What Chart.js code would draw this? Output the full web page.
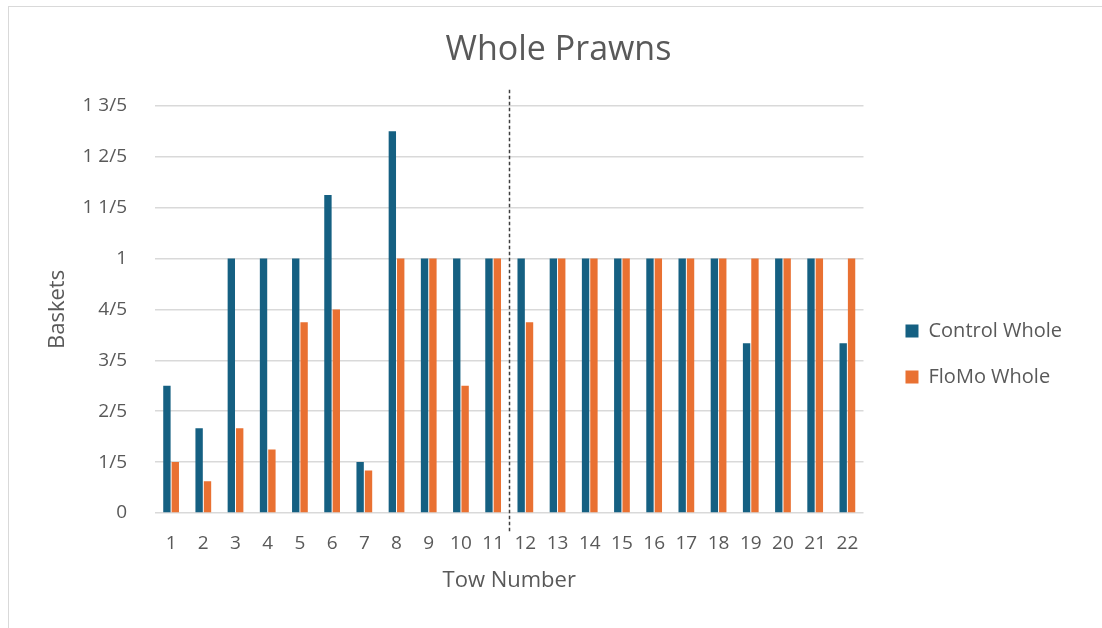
<!DOCTYPE html>
<html>
<head>
<meta charset="utf-8">
<script src="https://cdn.jsdelivr.net/npm/chart.js@4"></script>
<style>
  body { margin: 0; background: #fff; }
  #frame {
    position: absolute; left: 8px; top: 6px; width: 1110px; height: 640px;
    border: 1px solid #d9d9d9; box-sizing: border-box;
  }
  #wrap { position: absolute; left: 0; top: 0; width: 1102px; height: 628px; }
</style>
</head>
<body>
<div id="frame"></div>
<div id="wrap"><canvas id="prawnChart"></canvas></div>
<script>
const tows = ['1','2','3','4','5','6','7','8','9','10','11','12','13','14','15','16','17','18','19','20','21','22'];
const controlWhole = [0.5, 0.333, 1, 1, 1, 1.25, 0.2, 1.5, 1, 1, 1, 1, 1, 1, 1, 1, 1, 1, 0.667, 1, 1, 0.667];
const flomoWhole = [0.2, 0.125, 0.333, 0.25, 0.75, 0.8, 0.167, 1, 1, 0.5, 1, 0.75, 1, 1, 1, 1, 1, 1, 1, 1, 1, 1];

const textColor = '#595959';
const fontFamily = "'Open Sans', sans-serif";

// baskets shown in fifths, e.g. 1 2/5
function fifths(v) {
  const n = Math.round(v * 5);
  const whole = Math.floor(n / 5);
  const rem = n % 5;
  if (whole && rem) return whole + ' ' + rem + '/5';
  if (whole) return String(whole);
  if (rem) return rem + '/5';
  return '0';
}

// dashed divider between tow 11 and tow 12
const dividerLine = {
  id: 'dividerLine',
  afterDatasetsDraw(chart) {
    const x = chart.scales.x;
    const area = chart.chartArea;
    const px = Math.round((x.getPixelForValue(10) + x.getPixelForValue(11)) / 2) + 0.5;
    const ctx = chart.ctx;
    ctx.save();
    ctx.strokeStyle = '#404040';
    ctx.lineWidth = 1.5;
    ctx.setLineDash([3.5, 2.5]);
    ctx.beginPath();
    ctx.moveTo(px, area.top - 16);
    ctx.lineTo(px, area.bottom + 19);
    ctx.stroke();
    ctx.restore();
  }
};

// push the legend column down a bit
const legendOffset = {
  id: 'legendOffset',
  afterLayout(chart) {
    if (!chart.legend) return;
    chart.legend.top += 57;
    chart.legend.bottom += 57;
  }
};

const ctx = document.getElementById('prawnChart').getContext('2d');
new Chart(ctx, {
  type: 'bar',
  data: {
    labels: tows,
    datasets: [
      {
        label: 'Control Whole',
        data: controlWhole,
        backgroundColor: '#156082',
        categoryPercentage: 0.52,
        barPercentage: 0.88,
      },
      {
        label: 'FloMo Whole',
        data: flomoWhole,
        backgroundColor: '#E97132',
        categoryPercentage: 0.52,
        barPercentage: 0.88,
      },
    ],
  },
  options: {
    responsive: true,
    maintainAspectRatio: false,
    animation: false,
    layout: { padding: { left: 45, right: 30, top: 0, bottom: 34 } },
    scales: {
      x: {
        grid: { display: false, drawTicks: false },
        border: { display: false },
        ticks: { color: textColor, font: { family: fontFamily, size: 19 }, padding: 19, maxRotation: 0 },
        title: { display: true, text: 'Tow Number', color: textColor, font: { family: fontFamily, size: 22 }, padding: 0 },
        afterFit(scale) { scale.height = 81; },
      },
      y: {
        min: 0,
        max: 1.6,
        grid: { color: '#d9d9d9', lineWidth: 1.5, drawTicks: false },
        border: { display: false },
        ticks: { stepSize: 0.2, color: textColor, font: { family: fontFamily, size: 19 }, padding: 28, callback: fifths },
        title: { display: true, text: 'Baskets', color: textColor, font: { family: fontFamily, size: 22 }, padding: 0 },
        afterFit(scale) { scale.width = 110; },
      },
      // empty axis that keeps a gap between the bars and the legend
      gap: {
        type: 'linear',
        position: 'right',
        display: true,
        grid: { display: false },
        border: { display: false },
        ticks: { display: false },
        afterFit(scale) { scale.width = 16; },
      },
    },
    plugins: {
      title: {
        display: true,
        text: 'Whole Prawns',
        color: textColor,
        font: { family: fontFamily, size: 34, weight: 'normal' },
        padding: { top: 30, bottom: 35 },
      },
      legend: {
        position: 'right',
        maxWidth: 300,
        labels: {
          color: textColor,
          font: { family: fontFamily, size: 20 },
          boxWidth: 13,
          boxHeight: 13,
          padding: 26,
        },
      },
      tooltip: { enabled: false },
    },
  },
  plugins: [dividerLine, legendOffset],
});
</script>
</body>
</html>
